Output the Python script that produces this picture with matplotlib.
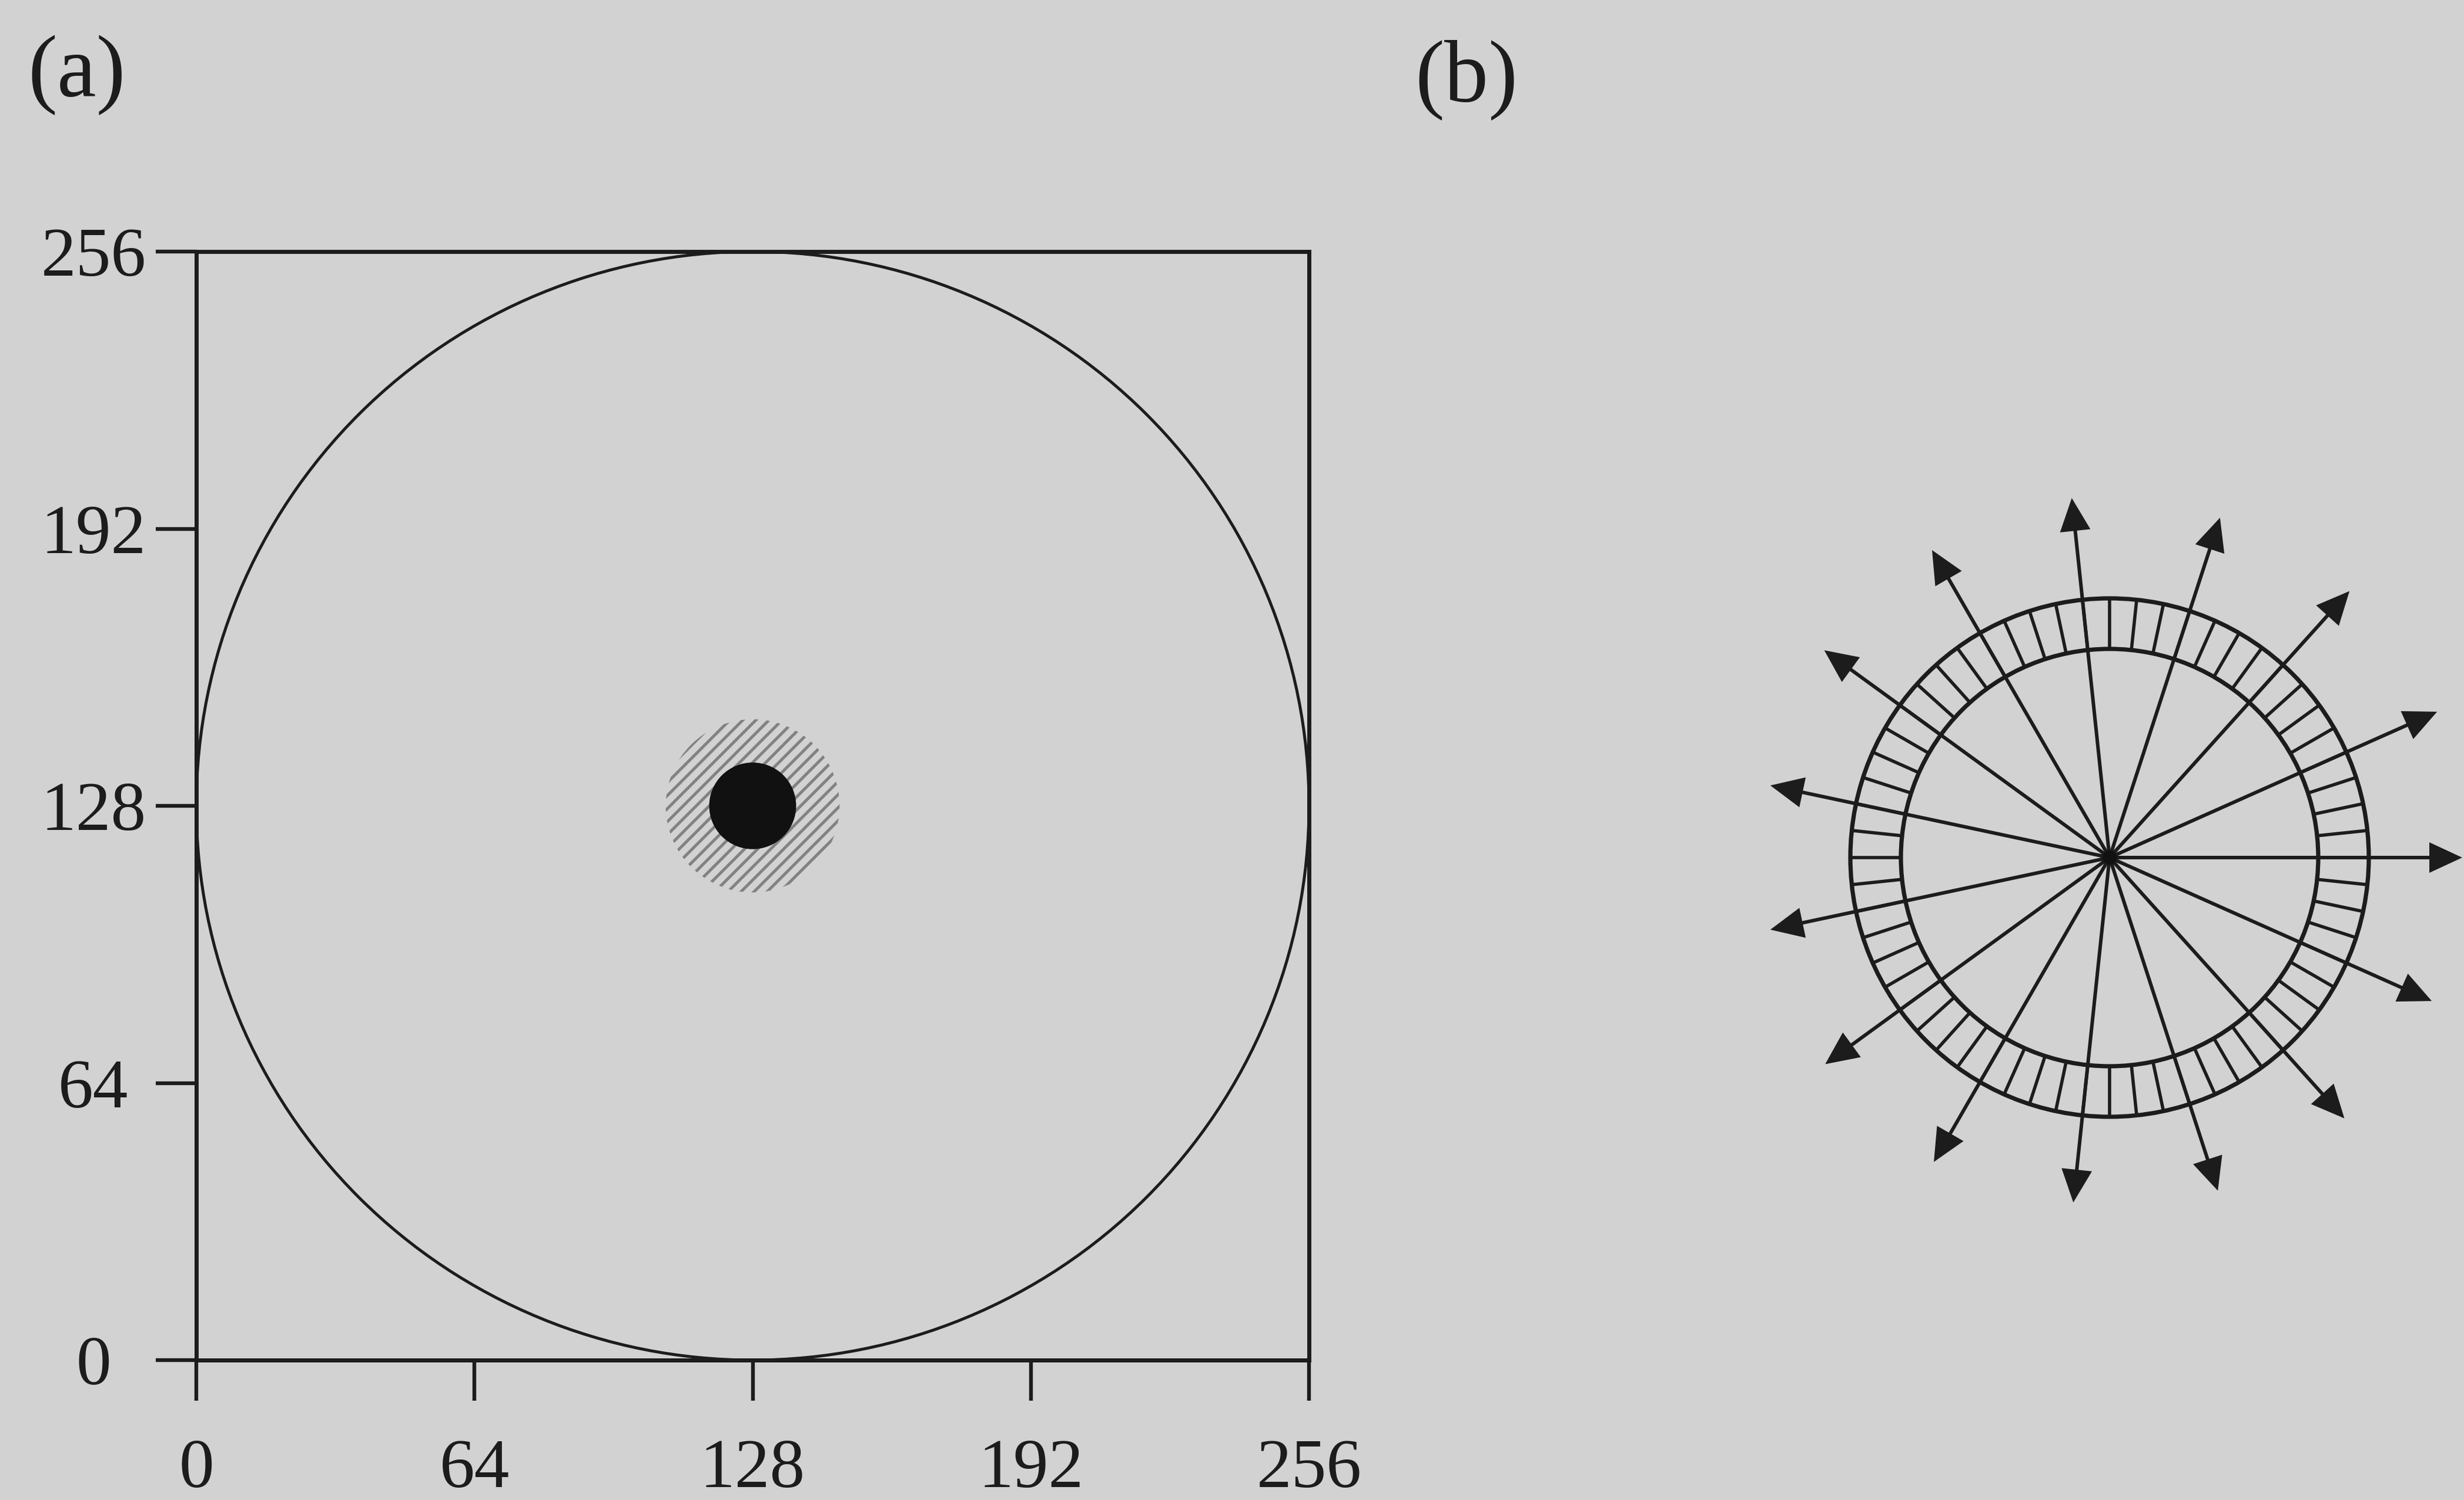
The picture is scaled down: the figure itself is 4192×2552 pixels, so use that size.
import numpy as np
import matplotlib
matplotlib.use("Agg")
import matplotlib.pyplot as plt
from matplotlib.patches import Circle

# panel (a): 256 x 256 grid with inscribed circle and a source in the centre
grid_ticks = [0, 64, 128, 192, 256]
grid_size = 256
centre = (128, 128)
core_radius = 10
halo_radius = 20

# panel (b): ring of detector segments with radial arrows
n_segments = 60
ring_inner = 355
ring_outer = 441
arrow_angles = [0, 24, 48, 72, 96, 120, 144, 168, 192, 216, 240, 264, 288, 312, 336]
arrow_lengths = [600, 610, 610, 608, 615, 604, 600, 590, 590, 598, 598, 590, 596, 597, 600]

W, H = 4192, 2552
bg = "#d2d2d2"
ink = "#1c1c1c"

plt.rcParams["font.family"] = ["Liberation Serif", "DejaVu Serif"]
plt.rcParams["hatch.linewidth"] = 1.8

fig = plt.figure(figsize=(W / 200, H / 200), dpi=200, facecolor=bg)

# ---- panel (a)
ax = fig.add_axes([334 / W, (H - 2314) / H, (2227 - 334) / W, (2314 - 428) / H])
ax.set_facecolor("none")
ax.set_xlim(0, grid_size)
ax.set_ylim(0, grid_size)
for s in ax.spines.values():
    s.set_linewidth(2.5)
    s.set_color(ink)
ax.set_xticks(grid_ticks)
ax.set_yticks(grid_ticks)
ax.set_xticklabels([str(t) for t in grid_ticks])
ax.set_yticklabels([str(t) for t in grid_ticks])
ax.tick_params(direction="out", length=25, width=2.3, color=ink,
               labelsize=43, labelcolor=ink)
ax.tick_params(axis="x", pad=23)
ax.tick_params(axis="y", pad=38)
for lab in ax.get_yticklabels():
    lab.set_horizontalalignment("center")

ax.add_patch(Circle(centre, grid_size / 2, fill=False, lw=1.8, ec=ink))
ax.add_patch(Circle(centre, halo_radius, facecolor="none", edgecolor="#828282",
                    lw=0, hatch="///"))
ax.add_patch(Circle(centre, core_radius, color="#111111", lw=0))

# ---- panel (b)
cx, cy = 3589, H - 1459
x0, x1, y0, y1 = 2750, W, 302, 1902
axb = fig.add_axes([x0 / W, y0 / H, (x1 - x0) / W, (y1 - y0) / H])
axb.set_xlim(x0 - cx, x1 - cx)
axb.set_ylim(y0 - cy, y1 - cy)
axb.axis("off")

axb.add_patch(Circle((0, 0), ring_inner, fill=False, lw=2.6, ec=ink))
axb.add_patch(Circle((0, 0), ring_outer, fill=False, lw=2.6, ec=ink))
seg = np.linspace(0, 2 * np.pi, n_segments, endpoint=False)
for a in seg:
    axb.plot([ring_inner * np.cos(a), ring_outer * np.cos(a)],
             [ring_inner * np.sin(a), ring_outer * np.sin(a)],
             color=ink, lw=2.0, solid_capstyle="butt")

for ang, L in zip(arrow_angles, arrow_lengths):
    t = np.deg2rad(ang)
    axb.arrow(0, 0, L * np.cos(t), L * np.sin(t), width=6,
              head_width=52, head_length=56, length_includes_head=True,
              fc=ink, ec=ink, lw=0, clip_on=False)
axb.add_patch(Circle((0, 0), 12, color="#111111", lw=0))

# panel labels
fig.text(131 / W, 1 - 128 / H, "(a)", fontsize=54, color=ink, ha="center", va="center")
fig.text(2495 / W, 1 - 136 / H, "(b)", fontsize=54, color=ink, ha="center", va="center")

fig.savefig("out.png", dpi=200, facecolor=bg)
